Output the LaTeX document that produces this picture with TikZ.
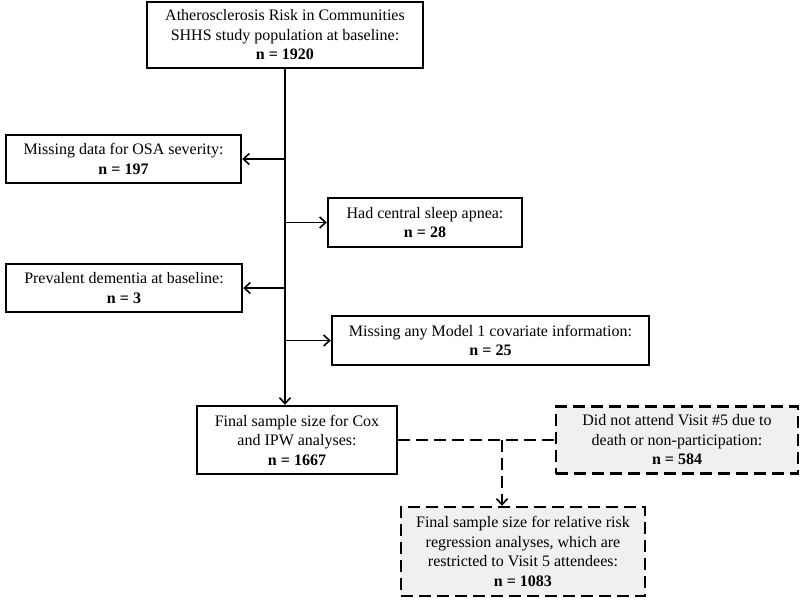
\documentclass[tikz,border=0pt]{standalone}
\usepackage{fontspec}
\setmainfont{Liberation Serif}
\usetikzlibrary{arrows.meta}

\tikzstyle{cohort} = [rectangle, line width=2.4pt, draw=black, align=center, inner sep=0pt, font=\fontsize{16}{19.5}\selectfont]
\tikzstyle{subsample} = [rectangle, line width=2.4pt, draw=black, fill=black!6, dash pattern=on 12pt off 6pt, align=center, inner sep=0pt, font=\fontsize{16}{19.5}\selectfont]
\tikzstyle{arrow} = [line width=1.6pt, -{Straight Barb[length=6pt,width=11pt,line width=1.6pt]}]
\tikzstyle{dashline} = [line width=1.8pt, dash pattern=on 12pt off 6pt]

\begin{document}
\begin{tikzpicture}[x=1pt, y=-1pt]
        \useasboundingbox (0,0) rectangle (800,606);
        % Nodes
        \node (baseline) [cohort, minimum width=276pt, minimum height=66pt] at (285,35) {Atherosclerosis Risk in Communities\\SHHS study population at baseline:\\\textbf{n = 1920}};
        \node (missOSA) [cohort, minimum width=235pt, minimum height=48pt] at (123.5,159) {Missing data for OSA severity:\\\textbf{n = 197}};
        \node (centralSA) [cohort, minimum width=194pt, minimum height=49pt] at (425,222.5) {Had central sleep apnea:\\\textbf{n = 28}};
        \node (dementia) [cohort, minimum width=236pt, minimum height=48pt] at (124,288) {Prevalent dementia at baseline:\\\textbf{n = 3}};
        \node (missCov) [cohort, minimum width=317pt, minimum height=49pt] at (490.5,340.5) {Missing any Model 1 covariate information:\\\textbf{n = 25}};
        \node (finalCox) [cohort, minimum width=200pt, minimum height=68pt] at (297,440) {Final sample size for Cox\\and IPW analyses:\\\textbf{n = 1667}};
        \node (noVisit) [subsample, minimum width=242pt, minimum height=67pt] at (677,440) {Did not attend Visit \#5 due to\\death or non-participation:\\\textbf{n = 584}};
        \node (finalRR) [subsample, minimum width=244pt, minimum height=89pt] at (523,551.5) {Final sample size for relative risk\\regression analyses, which are\\restricted to Visit 5 attendees:\\\textbf{n = 1083}};
        \coordinate (tee) at (502,440);

        % Arrows
        \draw [arrow] (baseline.south) -- (baseline.south |- finalCox.north);
        \draw [arrow] (baseline.south |- missOSA) -- (missOSA);
        \draw [arrow] (baseline.south |- centralSA) -- (centralSA);
        \draw [arrow] (baseline.south |- dementia) -- (dementia);
        \draw [arrow] (baseline.south |- missCov) -- (missCov);
        \draw [dashline] (finalCox) -- (noVisit);
        \draw [dashline, arrow] (tee) -- (tee |- finalRR.north);
    \end{tikzpicture}
\end{document}
